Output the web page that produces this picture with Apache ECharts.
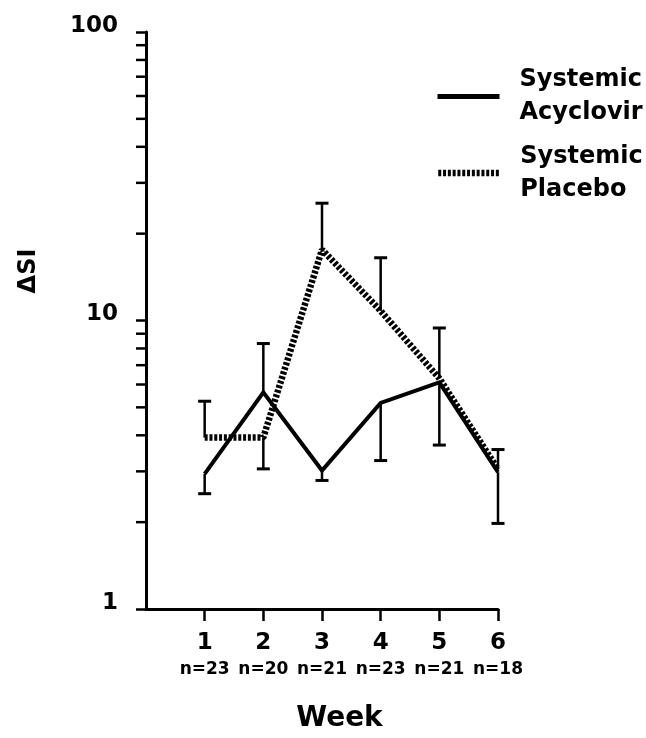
<!DOCTYPE html>
<html>
<head>
<meta charset="utf-8">
<script src="https://cdn.jsdelivr.net/npm/echarts@6/dist/echarts.min.js"></script>
<style>
  html, body { margin: 0; padding: 0; background: #fff; }
  #chart { width: 646px; height: 738px; }
</style>
</head>
<body>
<div id="chart"></div>
<script>
// ---- data ----
const weeks = [1, 2, 3, 4, 5, 6];
const nLabels = ['n=23', 'n=20', 'n=21', 'n=23', 'n=21', 'n=18'];
const acyclovir = [2.94, 5.64, 3.02, 5.18, 6.1, 2.98];
const placebo = [3.93, 3.93, 17.6, 10.8, 6.3, 3.05];
const acyclovirUpper = [null, 8.32, null, null, null, null];
const acyclovirLower = [2.51, null, 2.79, 3.27, 3.70, 1.98];
const placeboUpper = [5.25, null, 25.5, 16.5, 9.42, 3.57];
const placeboLower = [null, 3.06, null, null, null, null];
const yMajorTicks = [1, 10, 100];
const yMinorTicks = [2, 3, 4, 5, 6, 7, 8, 9, 20, 30, 40, 50, 60, 70, 80, 90];
const seriesNames = ['Systemic\nAcyclovir', 'Systemic\nPlacebo'];

const FONT = 'DejaVu Sans';

function pairs(vals) { return weeks.map((w, i) => [w, vals[i]]); }
function errItems(vals, limits) {
  const out = [];
  weeks.forEach((w, i) => { if (limits[i] != null) out.push([w, vals[i], limits[i]]); });
  return out;
}
const errorData = []
  .concat(errItems(acyclovir, acyclovirUpper))
  .concat(errItems(acyclovir, acyclovirLower))
  .concat(errItems(placebo, placeboUpper))
  .concat(errItems(placebo, placeboLower));

const chart = echarts.init(document.getElementById('chart'), null, { renderer: 'canvas' });

const option = {
  backgroundColor: '#fff',
  animation: false,
  grid: { left: 146, right: 148, top: 32, bottom: 123, containLabel: false },
  legend: [
    {
      data: [seriesNames[0]],
      left: 430, top: 55,
      itemWidth: 62, itemHeight: 10,
      selectedMode: false,
      itemStyle: { opacity: 0 },
      lineStyle: { width: 5 },
      textStyle: { fontFamily: FONT, fontWeight: 'bold', fontSize: 24, lineHeight: 33, color: '#000', padding: [0, 0, 7, 15] }
    },
    {
      data: [seriesNames[1]],
      left: 430, top: 127,
      itemWidth: 62, itemHeight: 10,
      selectedMode: false,
      itemStyle: { opacity: 0 },
      lineStyle: { width: 6.5 },
      textStyle: { fontFamily: FONT, fontWeight: 'bold', fontSize: 24, lineHeight: 33, color: '#000', padding: [0, 0, 16, 15] }
    }
  ],
  xAxis: {
    type: 'value',
    min: 0, max: 6, interval: 1,
    name: 'Week',
    nameLocation: 'middle',
    nameGap: 96,
    nameTextStyle: { fontFamily: FONT, fontWeight: 'bold', fontSize: 28, color: '#000', padding: [0, 0, 0, 35] },
    splitLine: { show: false },
    axisLine: { lineStyle: { color: '#000', width: 3 } },
    axisTick: { show: true, length: 12, lineStyle: { color: '#000', width: 2.5 }, customValues: weeks },
    axisLabel: {
      customValues: weeks,
      margin: 20,
      formatter: function (v) {
        const i = weeks.indexOf(v);
        if (i < 0) return '';
        return '{a|' + v + '}\n{b|' + nLabels[i] + '}';
      },
      rich: {
        a: { fontFamily: FONT, fontWeight: 'bold', fontSize: 23, lineHeight: 28, color: '#000' },
        b: { fontFamily: FONT, fontWeight: 'bold', fontSize: 17, lineHeight: 26, color: '#000' }
      }
    }
  },
  yAxis: {
    type: 'log',
    logBase: 10,
    min: 1, max: 100,
    name: 'ΔSI',
    nameLocation: 'middle',
    nameRotate: 90,
    nameGap: 105,
    nameTextStyle: { fontFamily: FONT, fontWeight: 'bold', fontSize: 24, color: '#000', padding: [0, 0, 0, 99] },
    splitLine: { show: false },
    axisLine: { lineStyle: { color: '#000', width: 3 } },
    axisTick: { show: true, length: 10, lineStyle: { color: '#000', width: 2.5 } },
    axisLabel: {
      margin: 28,
      fontFamily: FONT, fontWeight: 'bold', fontSize: 23, color: '#000',
      verticalAlign: 'bottom', lineHeight: 12,
      formatter: function (v) { return yMajorTicks.indexOf(v) >= 0 ? String(v) : ''; }
    }
  },
  series: [
    {
      name: seriesNames[0],
      type: 'line',
      data: pairs(acyclovir),
      symbol: 'none',
      z: 3,
      lineStyle: { color: '#000', width: 4, join: 'miter' },
      itemStyle: { color: '#000' }
    },
    {
      name: seriesNames[1],
      type: 'line',
      data: pairs(placebo),
      symbol: 'none',
      z: 4,
      lineStyle: { color: '#000', width: 6.5, type: [3, 1.8] },
      itemStyle: { color: '#000' }
    },
    {
      type: 'custom',
      z: 2,
      data: errorData,
      encode: { x: 0, y: [1, 2] },
      renderItem: function (params, api) {
        const x = api.value(0), from = api.value(1), to = api.value(2);
        const p0 = api.coord([x, from]);
        const p1 = api.coord([x, to]);
        const hw = 6.5;
        return {
          type: 'group',
          children: [
            { type: 'line', shape: { x1: p0[0], y1: p0[1], x2: p1[0], y2: p1[1] }, style: { stroke: '#000', lineWidth: 2.5 } },
            { type: 'line', shape: { x1: p1[0] - hw, y1: p1[1], x2: p1[0] + hw, y2: p1[1] }, style: { stroke: '#000', lineWidth: 3 } }
          ]
        };
      }
    },
    {
      type: 'custom',
      z: 2,
      data: yMinorTicks.map(v => [0, v]),
      encode: { x: 0, y: 1 },
      renderItem: function (params, api) {
        const p = api.coord([api.value(0), api.value(1)]);
        return { type: 'line', shape: { x1: p[0] - 10, y1: p[1], x2: p[0], y2: p[1] }, style: { stroke: '#000', lineWidth: 2.5 } };
      }
    }
  ]
};
chart.setOption(option);
</script>
</body>
</html>
